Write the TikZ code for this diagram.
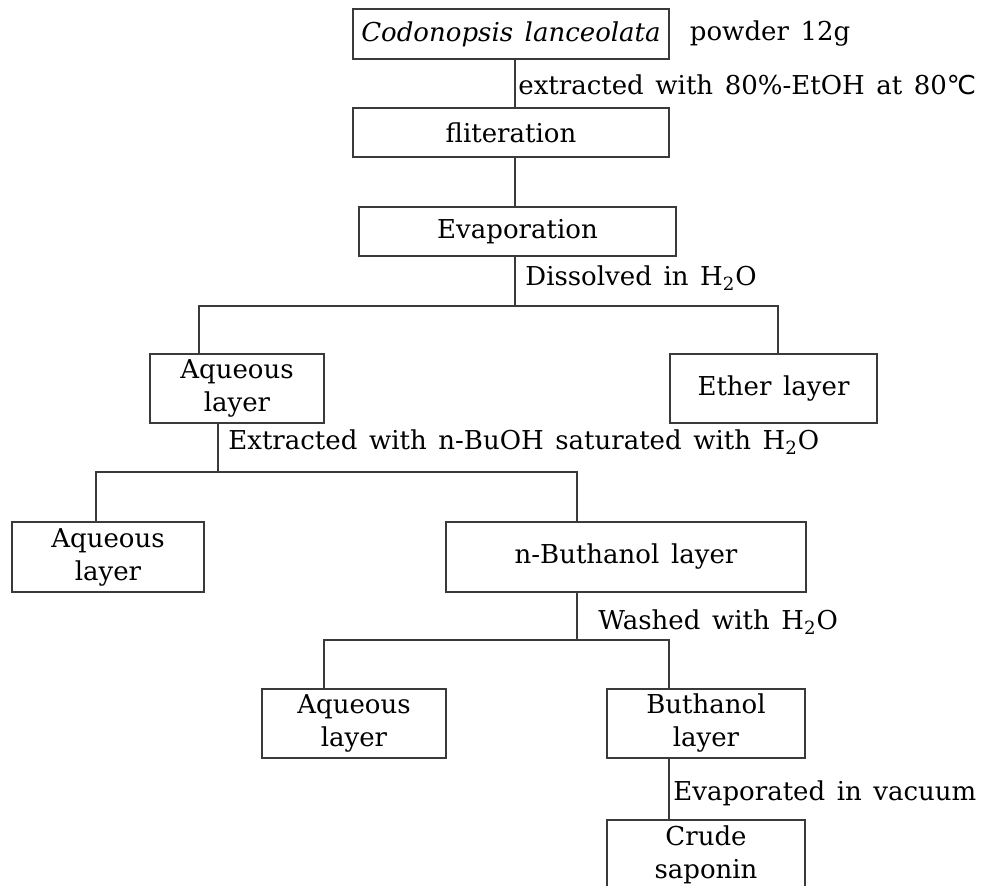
\documentclass[tikz,border=0pt]{standalone}
\usepackage{fontspec}
\setmainfont{DejaVu Serif}[WordSpace=1.4]
\newfontfamily\symbfont{DejaVu Sans}
\usetikzlibrary{positioning}
\definecolor{Ink}{HTML}{3A3A3A}
\tikzset{
  link/.style={draw=Ink,line width=0.55pt},
  stage/.style={draw=Ink,line width=0.55pt,align=center,inner sep=0pt,
    font=\fontsize{13}{16.5}\selectfont},
  note/.style={inner sep=0pt,anchor=west,font=\fontsize{13}{16.5}\selectfont},
}

\begin{document}
\begin{tikzpicture}[x=0.5pt,y=-0.5pt]
        \useasboundingbox (0,0) rectangle (982,886);
        % boxes
        \node[stage,minimum width=158pt,minimum height=25pt] (src) at (511,34) {\itshape Codonopsis lanceolata};
        \node[stage,minimum width=158pt,minimum height=24.5pt] (filt) at (511,132.5) {fliteration};
        \node[stage,minimum width=158.5pt,minimum height=24.5pt] (evap) at (517.5,231.5) {Evaporation};
        \node[stage,minimum width=87pt,minimum height=34.5pt] (aq1) at (237,388.5) {Aqueous\\layer};
        \node[stage,minimum width=103.5pt,minimum height=34.5pt] (eth) at (773.5,388.5) {Ether layer};
        \node[stage,minimum width=96pt,minimum height=35pt] (aq2) at (108,557) {Aqueous\\layer};
        \node[stage,minimum width=180pt,minimum height=35pt] (nbu) at (626,557) {n-Buthanol layer};
        \node[stage,minimum width=92pt,minimum height=34.5pt] (aq3) at (354,723.5) {Aqueous\\layer};
        \node[stage,minimum width=99pt,minimum height=34.5pt] (bu) at (706,723.5) {Buthanol\\layer};
        \node[stage,minimum width=99pt,minimum height=34.5pt] (crude) at (706,854.5) {Crude\\saponin};
        % joints
        \coordinate (j1) at (515,306);
        \coordinate (d1l) at (199,306);
        \coordinate (d1r) at (778,306);
        \coordinate (j2) at (218,472);
        \coordinate (d2l) at (96,472);
        \coordinate (d2r) at (577,472);
        \coordinate (d3l) at (324,640);
        \coordinate (d3r) at (669,640);
        % texts beside the lines
        \node[note,right=10pt of src] (powder) {powder 12g};
        \node[note] (ext) at (518,85) {extracted with 80\%-EtOH at 80{\symbfont ℃}};
        \node[note] (diss) at (525,278) {Dissolved in H\textsubscript{2}O};
        \node[note] (ext2) at (228,442) {Extracted with n-BuOH saturated with H\textsubscript{2}O};
        \node[note] (wash) at (598,622) {Washed with H\textsubscript{2}O};
        \node[note] (vac) at (673,793) {Evaporated in vacuum};
        % connectors
        \draw[link] (src.south -| j1) -- (filt.north -| j1);
        \draw[link] (filt.south -| j1) -- (evap.north -| j1);
        \draw[link] (evap.south -| j1) -- (j1);
        \draw[link] (aq1.north -| d1l) -- (d1l) -- (d1r) -- (eth.north -| d1r);
        \draw[link] (aq1.south -| j2) -- (j2);
        \draw[link] (aq2.north -| d2l) -- (d2l) -- (d2r) -- (nbu.north -| d2r);
        \draw[link] (nbu.south -| d2r) -- (d2r |- d3l);
        \draw[link] (aq3.north -| d3l) -- (d3l) -- (d3r) -- (bu.north -| d3r);
        \draw[link] (bu.south -| d3r) -- (crude.north -| d3r);
      \end{tikzpicture}
\end{document}
